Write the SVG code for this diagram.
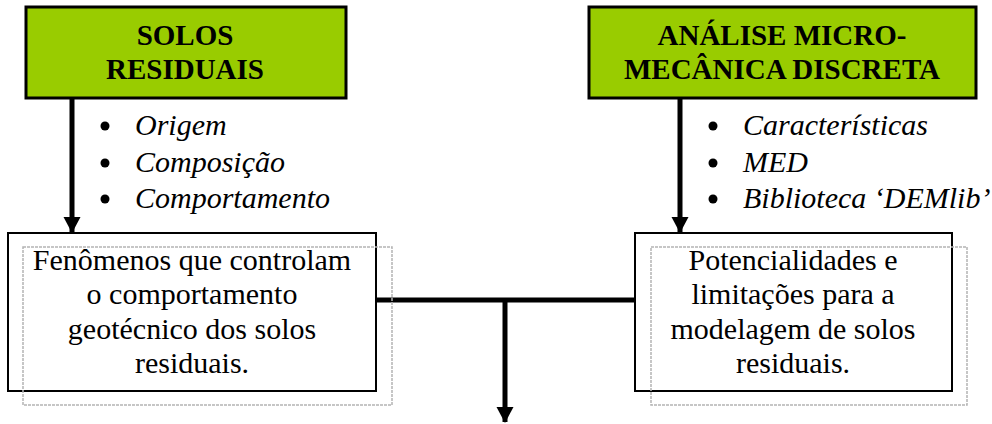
<svg xmlns="http://www.w3.org/2000/svg" width="992" height="424" viewBox="0 0 992 424">
  <style>
    .head { fill: #99cc00; stroke: #000; stroke-width: 3; }
    .htxt { font-family: "Liberation Serif", "Times New Roman", serif; font-size: 29px; font-weight: bold; text-anchor: middle; fill: #000; }
    .item { font-family: "Liberation Serif", "Times New Roman", serif; font-size: 30px; font-style: italic; fill: #000; }
    .dot { fill: #000; }
    .box { fill: #fff; stroke: #000; stroke-width: 2; }
    .shade { fill: none; stroke: #b4b4b4; stroke-width: 1.5; stroke-dasharray: 3 1; }
    .btxt { font-family: "Liberation Serif", "Times New Roman", serif; font-size: 30px; text-anchor: middle; fill: #000; }
    .link { fill: none; stroke: #000; stroke-width: 5; }
  </style>
  <defs>
    <marker id="arrow" markerUnits="userSpaceOnUse" markerWidth="18" markerHeight="18" refX="15" refY="8.5" orient="auto">
      <polygon points="0,0 16,8.5 0,17" fill="#000"/>
    </marker>
  </defs>

  <!-- connectors -->
  <g id="connectors">
    <line class="link" x1="72" y1="98" x2="72" y2="232" marker-end="url(#arrow)"/>
    <line class="link" x1="680" y1="98" x2="680" y2="232" marker-end="url(#arrow)"/>
    <line class="link" x1="376" y1="300" x2="635" y2="300"/>
    <line class="link" x1="505" y1="300" x2="505" y2="422" marker-end="url(#arrow)"/>
  </g>

  <!-- header: residual soils -->
  <g id="solos-residuais">
    <rect class="head" x="26" y="7" width="320" height="91"/>
    <text class="htxt" x="185" y="45">SOLOS</text>
    <text class="htxt" x="185" y="79">RESIDUAIS</text>
  </g>

  <!-- header: discrete micromechanics -->
  <g id="analise-micromecanica">
    <rect class="head" x="589" y="7" width="387" height="91"/>
    <text class="htxt" x="782" y="45">ANÁLISE MICRO-</text>
    <text class="htxt" x="782" y="79">MECÂNICA DISCRETA</text>
  </g>

  <!-- bullet list, left -->
  <g id="lista-solos">
    <circle class="dot" cx="105" cy="126" r="4.5"/>
    <text class="item" x="135" y="135">Origem</text>
    <circle class="dot" cx="105" cy="163" r="4.5"/>
    <text class="item" x="135" y="172">Composição</text>
    <circle class="dot" cx="105" cy="199" r="4.5"/>
    <text class="item" x="135" y="208">Comportamento</text>
  </g>

  <!-- bullet list, right -->
  <g id="lista-med">
    <circle class="dot" cx="713" cy="126" r="4.5"/>
    <text class="item" x="743" y="135">Características</text>
    <circle class="dot" cx="713" cy="163" r="4.5"/>
    <text class="item" x="743" y="172">MED</text>
    <circle class="dot" cx="713" cy="199" r="4.5"/>
    <text class="item" x="743" y="208">Biblioteca ‘DEMlib’</text>
  </g>

  <!-- result box, left -->
  <g id="fenomenos">
    <rect class="box" x="8" y="233" width="368" height="158"/>
    <rect class="shade" x="23" y="247" width="369" height="158"/>
    <text class="btxt" x="192" y="270">Fenômenos que controlam</text>
    <text class="btxt" x="192" y="304">o comportamento</text>
    <text class="btxt" x="192" y="339">geotécnico dos solos</text>
    <text class="btxt" x="192" y="373">residuais.</text>
  </g>

  <!-- result box, right -->
  <g id="potencialidades">
    <rect class="box" x="635" y="233" width="317" height="158"/>
    <rect class="shade" x="651" y="247" width="316" height="158"/>
    <text class="btxt" x="793" y="270">Potencialidades e</text>
    <text class="btxt" x="793" y="304">limitações para a</text>
    <text class="btxt" x="793" y="339">modelagem de solos</text>
    <text class="btxt" x="793" y="373">residuais.</text>
  </g>
</svg>
